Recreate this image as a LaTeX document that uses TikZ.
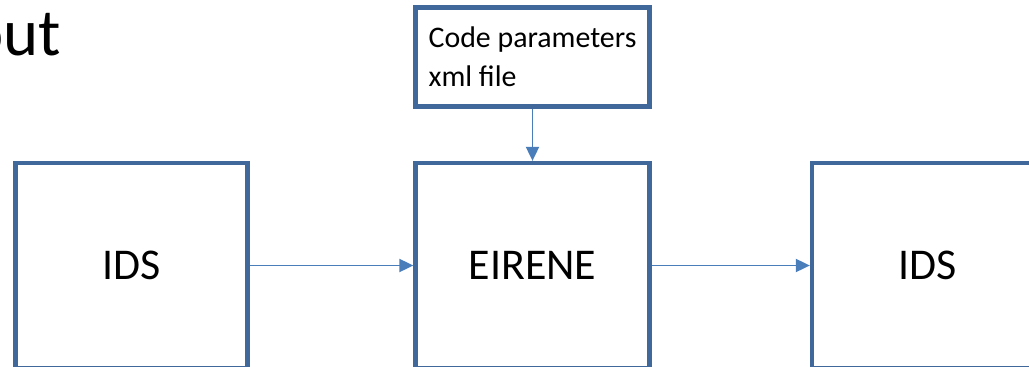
\documentclass[tikz,border=0pt]{standalone}
\usepackage{fontspec}
\setmainfont{Carlito}
\usetikzlibrary{arrows.meta}
\definecolor{boxblue}{HTML}{41689A}
\definecolor{arrowblue}{HTML}{4A7EBB}

\begin{document}
\begin{tikzpicture}[x=0.02cm,y=-0.02cm]
\useasboundingbox (0,0) rectangle (1029,366);
\node[anchor=base east,inner sep=0pt,font=\fontsize{38}{44}\selectfont] (title) at (61,55) {out};

\begin{scope}[every node/.style={rectangle,draw=boxblue,line width=2.5pt,fill=white,font=\fontsize{25}{30}\selectfont}]
    \node[minimum width=4.64cm,minimum height=4.1cm] (IDSin) at (131.5,265.5) {IDS};
    \node[minimum width=4.68cm,minimum height=4.1cm] (EIRENE) at (532.5,265.5) {EIRENE};
    \node[minimum width=4.64cm,minimum height=4.1cm] (IDSout) at (928,265.5) {IDS};
    \node[minimum width=4.68cm,minimum height=1.98cm,align=left,font=\fontsize{17}{22}\selectfont] (params) at (532.5,57) {Code parameters\\xml file};
\end{scope}

\begin{scope}[>={Triangle[length=8pt,width=7.5pt]},
              every edge/.style={draw=arrowblue,line width=0.9pt}]
    \path [->] (IDSin) edge (EIRENE);
    \path [->] (EIRENE) edge (IDSout);
    \path [->] (params) edge (EIRENE);
\end{scope}
\end{tikzpicture}
\end{document}
